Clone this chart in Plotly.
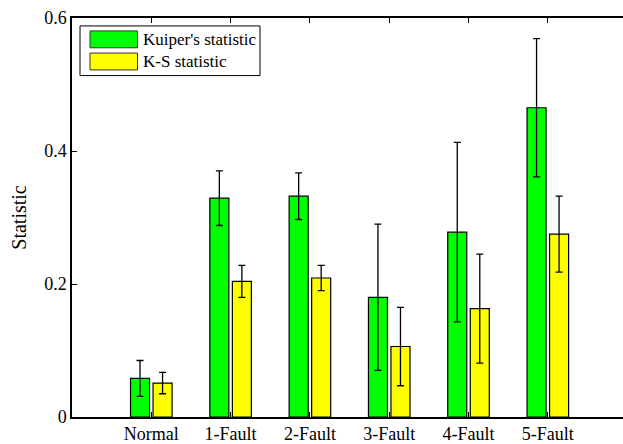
import plotly.graph_objects as go

categories = ["Normal", "1-Fault", "2-Fault", "3-Fault", "4-Fault", "5-Fault"]
kuiper_mean = [0.058, 0.329, 0.332, 0.180, 0.278, 0.465]
kuiper_err = [0.027, 0.041, 0.035, 0.110, 0.135, 0.104]
ks_mean = [0.051, 0.204, 0.209, 0.106, 0.163, 0.275]
ks_err = [0.016, 0.024, 0.019, 0.059, 0.082, 0.057]
series_names = ["Kuiper's statistic", "K-S statistic"]
colors = ["#00FF00", "#FFFF00"]
y_ticks = [0, 0.2, 0.4, 0.6]
y_ticklabels = ["0", "0.2", "0.4", "0.6"]

xpos = list(range(1, len(categories) + 1))
FONT = "Liberation Serif"

fig = go.Figure()
for name, vals, errs, col, off in [
    (series_names[0], kuiper_mean, kuiper_err, colors[0], -0.262),
    (series_names[1], ks_mean, ks_err, colors[1], 0.022),
]:
    fig.add_trace(go.Bar(
        x=xpos, y=vals, name=name, width=0.24, offset=off,
        marker=dict(color=col, line=dict(color="black", width=1.2)),
        error_y=dict(type="data", array=errs, visible=True, color="black",
                     thickness=1.3, width=3.5),
        showlegend=False,
    ))

# Legend drawn manually (large rectangular swatches)
W, H = 623, 444
ml, mt, mb = 72, 18, 24
pw, ph = W - ml, H - mt - mb

def px(x):
    return (x - ml) / pw

def py(y):
    return 1 - (y - mt) / ph

shapes = [
    dict(type="rect", xref="paper", yref="paper", x0=px(80), x1=px(260), y0=py(76), y1=py(26),
         line=dict(color="black", width=1), fillcolor="white", layer="above"),
]
annotations = []
for i, (name, col) in enumerate(zip(series_names, colors)):
    top = 31 + i * 22.3
    shapes.append(dict(type="rect", xref="paper", yref="paper", x0=px(90), x1=px(137.5),
                       y0=py(top + 17), y1=py(top), line=dict(color="#333333", width=1),
                       fillcolor=col, layer="above"))
    annotations.append(dict(xref="paper", yref="paper", x=px(141), y=py(top + 8.5),
                            text=name, showarrow=False, xanchor="left", yanchor="middle",
                            font=dict(family=FONT, size=17, color="black")))

fig.update_layout(
    width=W, height=H,
    margin=dict(l=ml, r=0, t=mt, b=mb),
    paper_bgcolor="white", plot_bgcolor="white",
    barmode="overlay",
    showlegend=False,
    font=dict(family=FONT, size=18, color="black"),
    shapes=shapes, annotations=annotations,
    xaxis=dict(range=[0, 6.948], tickvals=xpos, ticktext=categories,
               ticks="inside", ticklen=5, tickcolor="black", tickwidth=1,
               showline=True, linecolor="black", linewidth=1.5, mirror="ticks",
               showgrid=False, zeroline=False,
               tickfont=dict(family=FONT, size=18, color="black")),
    yaxis=dict(range=[0, 0.6], tickvals=y_ticks, ticktext=y_ticklabels,
               ticks="inside", ticklen=5, tickcolor="black", tickwidth=1,
               showline=True, linecolor="black", linewidth=1.5, mirror=False,
               showgrid=False, zeroline=False,
               title=dict(text="Statistic", font=dict(family=FONT, size=20, color="black"), standoff=12),
               tickfont=dict(family=FONT, size=18, color="black")),
)

fig.write_html("out.html")
